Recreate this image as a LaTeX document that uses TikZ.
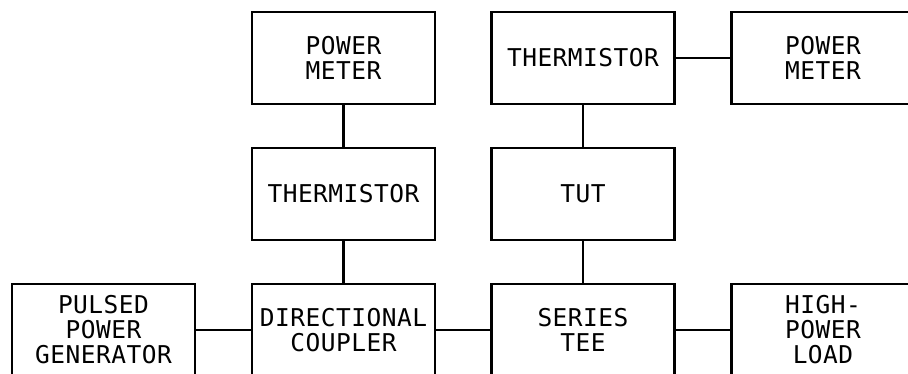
\documentclass[tikz,border=0pt]{standalone}
\usepackage{fontspec}
\newfontfamily\plotfont[LetterSpace=2]{DejaVu Sans Mono}
\begin{document}
\begin{tikzpicture}[x=1pt,y=-1pt,
  blk/.style={draw=black,line width=2.2pt,minimum width=183pt,minimum height=92pt,
    inner sep=0pt,align=center,font=\plotfont\fontsize{24.5pt}{25pt}\selectfont},
  wire/.style={draw=black,line width=2.2pt}]
\useasboundingbox (0,0) rectangle (908,373);
\clip (0,0) rectangle (908,373);
\node[blk] (pm1) at (343.5,58) {POWER\\METER};
\node[blk] (th2) at (583,58) {THERMISTOR};
\node[blk] (pm2) at (823,58) {POWER\\METER};
\node[blk] (th1) at (343.5,194) {THERMISTOR};
\node[blk] (tut) at (583,194) {TUT};
\node[blk] (pg) at (103.5,330) {PULSED\\POWER\\GENERATOR};
\node[blk] (dc) at (343.5,330) {DIRECTIONAL\\COUPLER};
\node[blk] (st) at (583,330) {SERIES\\TEE};
\node[blk] (hl) at (823,330) {HIGH-\\POWER\\LOAD};
\draw[wire] (pm1) -- (th1);
\draw[wire] (th1) -- (dc);
\draw[wire] (th2) -- (tut);
\draw[wire] (tut) -- (st);
\draw[wire] (th2) -- (pm2);
\draw[wire] (pg) -- (dc);
\draw[wire] (dc) -- (st);
\draw[wire] (st) -- (hl);
\end{tikzpicture}
\end{document}
